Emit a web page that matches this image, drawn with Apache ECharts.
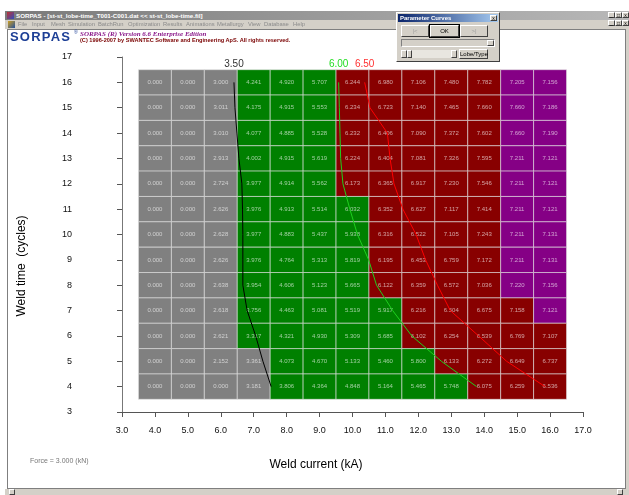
<!DOCTYPE html>
<html>
<head>
<meta charset="utf-8">
<title>SORPAS weldability lobe</title>
<script src="https://cdn.jsdelivr.net/npm/echarts@6/dist/echarts.min.js"></script>
<style>
  html, body { margin: 0; padding: 0; }
  body { width: 629px; height: 495px; overflow: hidden; position: relative; background: #fff;
         font-family: "Liberation Sans", Arial, sans-serif; }
  #chart { position: absolute; left: 0; top: 0; width: 629px; height: 495px; }
  .abs { position: absolute; white-space: nowrap; }
  .titlebar { left: 5px; top: 11px; width: 624px; height: 9px;
              background: linear-gradient(to right, #7a7a7a, #b8b8b8); color: #fff;
              font: bold 6.2px/9px "Liberation Sans", Arial, sans-serif; }
  .menubar { left: 5px; top: 20px; width: 624px; height: 9px; background: #d4d0c8;
             color: #8a8a8a; font: 5.8px/9px "Liberation Sans", Arial, sans-serif; }
  .frame { left: 7px; top: 29px; width: 617px; height: 458px; border: 1px solid #7f7f7f; }
  .vscroll { left: 626px; top: 29px; width: 3px; height: 460px; background: #d4d0c8; }
  .hscroll { left: 5px; top: 489px; width: 624px; height: 6px; background: #d4d0c8; }
  .btn { background: #d4d0c8; border: 1px solid; border-color: #fff #404040 #404040 #fff;
         box-sizing: border-box; text-align: center; color: #000; }
  .mdi { width: 7px; height: 6px; font: 5px/5px "Liberation Sans", Arial, sans-serif; }
  .dialog { left: 396px; top: 12px; width: 104px; height: 50px; background: #d4d0c8;
            border: 1px solid; border-color: #fff #404040 #404040 #fff; box-sizing: border-box; }
  .dlgtitle { left: 1px; top: 1px; width: 100px; height: 8px;
              background: linear-gradient(to right, #0a246a, #a6caf0); color: #fff;
              font: bold 6px/8px "Liberation Sans", Arial, sans-serif; padding-left: 2px; box-sizing: border-box; }
  .dbtn { height: 12px; font: 6px/10px "Liberation Sans", Arial, sans-serif; }
</style>
</head>
<body>
<div id="chart"></div>

<!-- application window chrome -->
<div class="abs titlebar">
  <span class="abs" style="left:2px;top:1px;width:7px;height:7px;background:linear-gradient(135deg,#c03030,#3050c0);"></span>
  <span class="abs" style="left:11px;top:0;">SORPAS - [st-st_lobe-time_T001-C001.dat &lt;&lt; st-st_lobe-time.fil]</span>
</div>
<div class="abs menubar">
  <span class="abs" style="left:3px;top:1px;width:7px;height:7px;background:linear-gradient(135deg,#d0a020,#2050a0);"></span>
  <span class="abs" style="left:13px;">File</span>
  <span class="abs" style="left:27px;">Input</span>
  <span class="abs" style="left:46px;">Mesh</span>
  <span class="abs" style="left:63px;">Simulation</span>
  <span class="abs" style="left:93px;">BatchRun</span>
  <span class="abs" style="left:123px;">Optimization</span>
  <span class="abs" style="left:158px;">Results</span>
  <span class="abs" style="left:181px;">Animations</span>
  <span class="abs" style="left:212px;">Metallurgy</span>
  <span class="abs" style="left:243px;">View</span>
  <span class="abs" style="left:259px;">Database</span>
  <span class="abs" style="left:288px;">Help</span>
</div>
<div class="abs btn mdi" style="left:608px;top:12px;">_</div>
<div class="abs btn mdi" style="left:615px;top:12px;">&#9633;</div>
<div class="abs btn mdi" style="left:622px;top:12px;">x</div>
<div class="abs btn mdi" style="left:608px;top:20px;">_</div>
<div class="abs btn mdi" style="left:615px;top:20px;">&#9633;</div>
<div class="abs btn mdi" style="left:622px;top:20px;">x</div>

<div class="abs frame"></div>
<div class="abs vscroll"></div>
<div class="abs hscroll">
  <div class="abs btn" style="left:4px;top:0;width:6px;height:6px;"></div>
  <div class="abs btn" style="left:612px;top:0;width:6px;height:6px;"></div>
</div>

<!-- product banner -->
<div class="abs" style="left:10px;top:30px;font:bold 13px/13px 'Liberation Sans',Arial,sans-serif;color:#1d3f96;letter-spacing:1.2px;">SORPAS</div>
<div class="abs" style="left:74px;top:30px;font:5px/5px 'Liberation Sans',Arial,sans-serif;color:#1d3f96;">&#174;</div>
<div class="abs" style="left:80px;top:31px;font:italic bold 7px/7px 'Liberation Serif','Times New Roman',serif;color:#8b1a8b;">SORPAS (R) Version 6.6 Enterprise Edition</div>
<div class="abs" style="left:80px;top:37px;font:bold 5.6px/6px 'Liberation Sans',Arial,sans-serif;color:#7a0000;">(C) 1996-2007 by SWANTEC Software and Engineering ApS. All rights reserved.</div>

<!-- Parameter Curves dialog -->
<div class="abs dialog">
  <div class="abs dlgtitle">Parameter Curves</div>
  <div class="abs btn" style="left:93px;top:2px;width:7px;height:6px;font:5px/4px 'Liberation Sans',Arial,sans-serif;">x</div>
  <div class="abs btn dbtn" style="left:4px;top:12px;width:28px;color:#a0a0a0;">|&lt;</div>
  <div class="abs btn dbtn" style="left:33px;top:12px;width:29px;outline:1px solid #000;">OK</div>
  <div class="abs btn dbtn" style="left:63px;top:12px;width:28px;color:#a0a0a0;">&gt;|</div>
  <div class="abs" style="left:4px;top:26px;width:94px;height:8px;border:1px solid;border-color:#808080 #fff #fff #808080;box-sizing:border-box;"></div>
  <div class="abs btn" style="left:90px;top:27px;width:7px;height:6px;"></div>
  <div class="abs" style="left:4px;top:37px;width:56px;height:8px;background:#e8e6e0;"></div>
  <div class="abs btn" style="left:4px;top:37px;width:6px;height:8px;"></div>
  <div class="abs btn" style="left:10px;top:37px;width:5px;height:8px;"></div>
  <div class="abs btn" style="left:54px;top:37px;width:6px;height:8px;"></div>
  <div class="abs btn" style="left:62px;top:36px;width:29px;height:10px;font:6px/8px 'Liberation Sans',Arial,sans-serif;">Lobe/Type</div>
</div>

<script>
// Weld current (kA) per column and weld time (cycles) per row, top row first
const weldCurrents = [4.0, 5.0, 6.0, 7.0, 8.0, 9.0, 10.0, 11.0, 12.0, 13.0, 14.0, 15.0, 16.0];
const weldTimes = [16, 15, 14, 13, 12, 11, 10, 9, 8, 7, 6, 5, 4];

// Nugget diameter (mm) per weld time, one entry per weld current
const nugget16 = [0.000, 0.000, 3.000, 4.241, 4.920, 5.707, 6.244, 6.980, 7.106, 7.480, 7.782, 7.205, 7.156];
const nugget15 = [0.000, 0.000, 3.011, 4.175, 4.915, 5.553, 6.234, 6.723, 7.140, 7.465, 7.660, 7.660, 7.186];
const nugget14 = [0.000, 0.000, 3.010, 4.077, 4.885, 5.528, 6.232, 6.406, 7.090, 7.372, 7.602, 7.660, 7.190];
const nugget13 = [0.000, 0.000, 2.913, 4.002, 4.915, 5.619, 6.224, 6.404, 7.081, 7.326, 7.595, 7.211, 7.121];
const nugget12 = [0.000, 0.000, 2.724, 3.977, 4.914, 5.562, 6.173, 6.365, 6.917, 7.230, 7.546, 7.211, 7.121];
const nugget11 = [0.000, 0.000, 2.626, 3.976, 4.913, 5.514, 6.032, 6.352, 6.627, 7.117, 7.414, 7.211, 7.121];
const nugget10 = [0.000, 0.000, 2.628, 3.977, 4.883, 5.437, 5.938, 6.316, 6.522, 7.105, 7.243, 7.211, 7.131];
const nugget9  = [0.000, 0.000, 2.626, 3.976, 4.764, 5.313, 5.819, 6.195, 6.453, 6.759, 7.172, 7.211, 7.131];
const nugget8  = [0.000, 0.000, 2.638, 3.954, 4.606, 5.123, 5.665, 6.122, 6.359, 6.572, 7.036, 7.220, 7.156];
const nugget7  = [0.000, 0.000, 2.618, 3.756, 4.463, 5.081, 5.519, 5.917, 6.216, 6.504, 6.675, 7.158, 7.121];
const nugget6  = [0.000, 0.000, 2.621, 3.317, 4.321, 4.930, 5.309, 5.685, 6.102, 6.254, 6.539, 6.769, 7.107];
const nugget5  = [0.000, 0.000, 2.152, 3.361, 4.073, 4.670, 5.133, 5.460, 5.800, 6.133, 6.272, 6.649, 6.737];
const nugget4  = [0.000, 0.000, 0.000, 3.181, 3.806, 4.364, 4.848, 5.164, 5.465, 5.748, 6.075, 6.259, 6.536];

// Lobe type per cell: 0 too small, 1 acceptable, 2 expulsion, 3 severe expulsion
const lobe16 = [0, 0, 0, 1, 1, 1, 2, 2, 2, 2, 2, 3, 3];
const lobe15 = [0, 0, 0, 1, 1, 1, 2, 2, 2, 2, 2, 3, 3];
const lobe14 = [0, 0, 0, 1, 1, 1, 2, 2, 2, 2, 2, 3, 3];
const lobe13 = [0, 0, 0, 1, 1, 1, 2, 2, 2, 2, 2, 3, 3];
const lobe12 = [0, 0, 0, 1, 1, 1, 2, 2, 2, 2, 2, 3, 3];
const lobe11 = [0, 0, 0, 1, 1, 1, 1, 2, 2, 2, 2, 3, 3];
const lobe10 = [0, 0, 0, 1, 1, 1, 1, 2, 2, 2, 2, 3, 3];
const lobe9  = [0, 0, 0, 1, 1, 1, 1, 2, 2, 2, 2, 3, 3];
const lobe8  = [0, 0, 0, 1, 1, 1, 1, 2, 2, 2, 2, 3, 3];
const lobe7  = [0, 0, 0, 1, 1, 1, 1, 1, 2, 2, 2, 2, 3];
const lobe6  = [0, 0, 0, 1, 1, 1, 1, 1, 2, 2, 2, 2, 2];
const lobe5  = [0, 0, 0, 0, 1, 1, 1, 1, 1, 2, 2, 2, 2];
const lobe4  = [0, 0, 0, 0, 1, 1, 1, 1, 1, 1, 2, 2, 2];

// Iso-diameter curves: weld current (kA) reached at each weld time in weldTimes
const curve350 = [6.40, 6.43, 6.49, 6.55, 6.64, 6.66, 6.67, 6.67, 6.67, 6.80, 7.06, 7.28, 7.53];
const curve600 = [9.58, 9.60, 9.62, 9.64, 9.71, 9.92, 10.15, 10.49, 10.73, 11.22, 11.80, 12.70, 13.77];
const curve650 = [10.37, 10.53, 11.06, 11.14, 11.26, 11.53, 11.93, 12.22, 12.58, 12.97, 13.83, 14.68, 15.85];

const xTicks = ['3.0','4.0','5.0','6.0','7.0','8.0','9.0','10.0','11.0','12.0','13.0','14.0','15.0','16.0','17.0'];

const nuggetRows = [nugget16, nugget15, nugget14, nugget13, nugget12, nugget11, nugget10,
                    nugget9, nugget8, nugget7, nugget6, nugget5, nugget4];
const lobeRows = [lobe16, lobe15, lobe14, lobe13, lobe12, lobe11, lobe10,
                  lobe9, lobe8, lobe7, lobe6, lobe5, lobe4];
const lobeColors = ['#808080', '#008000', '#880000', '#850085'];

const FONT = '"Liberation Sans", Arial, sans-serif';

const cells = [];
weldTimes.forEach((t, r) => {
  weldCurrents.forEach((c, k) => {
    cells.push([c, t, nuggetRows[r][k], lobeRows[r][k]]);
  });
});

function renderCell(params, api) {
  const center = api.coord([api.value(0), api.value(1)]);
  const size = api.size([1, 1]);
  return {
    type: 'group',
    children: [
      {
        type: 'rect',
        shape: { x: center[0] - size[0] / 2, y: center[1] - size[1] / 2, width: size[0], height: size[1] },
        style: { fill: lobeColors[api.value(3)], stroke: 'rgba(225,225,225,0.6)', lineWidth: 1 }
      },
      {
        type: 'text',
        style: {
          text: api.value(2).toFixed(3), x: center[0], y: center[1],
          align: 'center', verticalAlign: 'middle',
          fill: 'rgba(255,255,255,0.62)', font: '6px ' + FONT
        }
      }
    ]
  };
}

function curveSeries(name, xs, color, labelColor) {
  return {
    name: name, type: 'line', z: 5, silent: true, symbol: 'none', smooth: false,
    lineStyle: { color: color, width: 1 },
    data: xs.map((x, i) => {
      const item = { value: [x, weldTimes[i]] };
      if (i === 0) {
        item.symbol = 'circle';
        item.symbolSize = 0.1;
        item.label = { show: true, position: 'top', distance: 13, formatter: name,
                       color: labelColor, fontSize: 10, fontFamily: FONT };
      }
      return item;
    })
  };
}

const chart = echarts.init(document.getElementById('chart'), null, { renderer: 'canvas' });
chart.setOption({
  animation: false,
  backgroundColor: '#ffffff',
  grid: { left: 122, right: 46, top: 57, bottom: 83 },
  xAxis: {
    type: 'value', min: 3, max: 17, interval: 1,
    axisLine: { show: true, onZero: false, lineStyle: { color: '#555', width: 1 } },
    axisTick: { show: true, inside: false, length: 5, lineStyle: { color: '#555' } },
    axisLabel: { margin: 14, color: '#111', fontSize: 9, fontFamily: FONT,
                 formatter: v => xTicks[Math.round(v) - 3] },
    splitLine: { show: false }
  },
  yAxis: {
    type: 'value', min: 3, max: 17, interval: 1,
    axisLine: { show: true, onZero: false, lineStyle: { color: '#777', width: 1 } },
    axisTick: { show: true, inside: false, length: 5, lineStyle: { color: '#555' } },
    axisLabel: { margin: 50, color: '#111', fontSize: 9, fontFamily: FONT },
    splitLine: { show: false }
  },
  graphic: [
    { type: 'text', left: 30, top: 458,
      style: { text: 'Force = 3.000 (kN)', fill: '#777', font: '7px ' + FONT } },
    { type: 'text', x: 316, y: 465,
      style: { text: 'Weld current (kA)', fill: '#000', font: '12px ' + FONT,
               align: 'center', verticalAlign: 'middle' } },
    { type: 'text', x: 22, y: 266, rotation: Math.PI / 2,
      style: { text: 'Weld time  (cycles)', fill: '#000', font: '12px ' + FONT,
               align: 'center', verticalAlign: 'middle' } }
  ],
  series: [
    { type: 'custom', renderItem: renderCell, data: cells, encode: { x: 0, y: 1 }, z: 2, silent: true },
    curveSeries('3.50', curve350, '#000000', '#333333'),
    curveSeries('6.00', curve600, '#1ed01e', '#22dd22'),
    curveSeries('6.50', curve650, '#ff0000', '#ff3030')
  ]
});
</script>
</body>
</html>
